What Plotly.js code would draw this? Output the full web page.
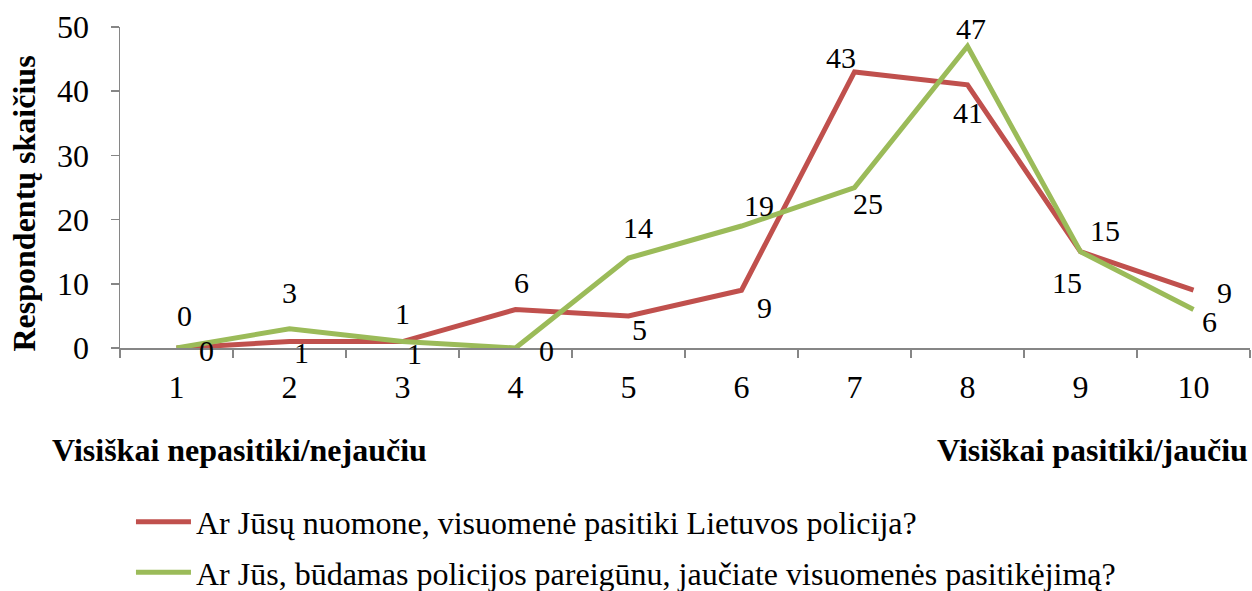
<!DOCTYPE html>
<html>
<head>
<meta charset="utf-8">
<script src="https://cdn.plot.ly/plotly-3.0.1.min.js"></script>
<style>html,body{margin:0;padding:0;background:#fff;}#chart{width:1252px;height:591px;}</style>
</head>
<body>
<div id="chart"></div>
<script>
const categories = ['1','2','3','4','5','6','7','8','9','10'];
const seriesPolice = [0, 1, 1, 6, 5, 9, 43, 41, 15, 9];
const seriesOfficer = [0, 3, 1, 0, 14, 19, 25, 47, 15, 6];
const namePolice = 'Ar Jūsų nuomone, visuomenė pasitiki Lietuvos policija?';
const nameOfficer = 'Ar Jūs, būdamas policijos pareigūnu, jaučiate visuomenės pasitikėjimą?';
const yTitle = 'Respondentų skaičius';
const leftLabel = 'Visiškai nepasitiki/nejaučiu';
const rightLabel = 'Visiškai pasitiki/jaučiu';

// label offsets in pixels [dx, dy(down)]
const offPolice = [[30,2],[12,11],[0,-28],[6,-27],[11,14],[23,17],[-14,-14],[0,28],[24,-21],[31,2]];
const offOfficer = [[8,-33],[0,-36],[12,12],[31,2],[9,-31],[17,-21],[13,16],[3,-18],[-14,31],[16,12]];

const FONT = 'Liberation Serif';
const RED = '#C0504D', GREEN = '#9BBB59';
const NUM = 30, BIG = 32;

const traces = [
  {x: categories, y: seriesPolice, type: 'scatter', mode: 'lines', name: namePolice,
   line: {color: RED, width: 5}, legendgroup: 'a'},
  {x: categories, y: seriesOfficer, type: 'scatter', mode: 'lines', name: nameOfficer,
   line: {color: GREEN, width: 5}, legendgroup: 'b'}
];

const annotations = [];
function addLabels(vals, offs) {
  vals.forEach((v, i) => {
    annotations.push({x: i, y: v, xref: 'x', yref: 'y', text: String(v),
      showarrow: false, xshift: offs[i][0], yshift: -offs[i][1],
      font: {family: FONT, size: NUM, color: '#000'}});
  });
}
addLabels(seriesPolice, offPolice);
addLabels(seriesOfficer, offOfficer);
annotations.push({xref: 'paper', yref: 'paper', x: -0.062, y: -0.318, xanchor: 'left', yanchor: 'middle',
  text: '<b>' + leftLabel + '</b>', showarrow: false, font: {family: FONT, size: BIG, color: '#000'}});
annotations.push({xref: 'paper', yref: 'paper', x: 1.0, y: -0.318, xanchor: 'right', yanchor: 'middle',
  text: '<b>' + rightLabel + '</b>', showarrow: false, font: {family: FONT, size: BIG, color: '#000'}});
annotations.push({xref: 'paper', yref: 'paper', x: -0.085, y: 0.45, xanchor: 'center', yanchor: 'middle',
  textangle: -90, text: '<b>' + yTitle + '</b>', showarrow: false, font: {family: FONT, size: BIG, color: '#000'}});

const layout = {
  width: 1252, height: 591,
  margin: {l: 120, r: 2, t: 27, b: 243, autoexpand: false},
  paper_bgcolor: '#fff', plot_bgcolor: '#fff',
  font: {family: FONT, size: BIG, color: '#000'},
  showlegend: true,
  legend: {x: 0.0097, y: -0.456, xanchor: 'left', yanchor: 'top', orientation: 'v',
    font: {family: FONT, size: BIG, color: '#000'}, tracegroupgap: 6, itemwidth: 55,
    bgcolor: 'rgba(0,0,0,0)'},
  xaxis: {type: 'category', range: [-0.5, 9.5], tickson: 'boundaries', ticks: 'outside', ticklen: 8, tickwidth: 1.5,
    tickcolor: '#868686', showline: true, linecolor: '#868686', linewidth: 1.5,
    showgrid: false, zeroline: false, ticklabelstandoff: 10, automargin: false,
    tickfont: {family: FONT, size: BIG, color: '#000'}},
  yaxis: {range: [0, 50], tickvals: [0, 10, 20, 30, 40, 50], ticks: 'outside', ticklen: 8, tickwidth: 1.5,
    tickcolor: '#868686', showline: true, linecolor: '#868686', linewidth: 1.5,
    showgrid: false, zeroline: false, ticklabelstandoff: 15, automargin: false,
    tickfont: {family: FONT, size: BIG, color: '#000'}},
  annotations: annotations
};

Plotly.newPlot('chart', traces, layout, {staticPlot: true});
</script>
</body>
</html>
